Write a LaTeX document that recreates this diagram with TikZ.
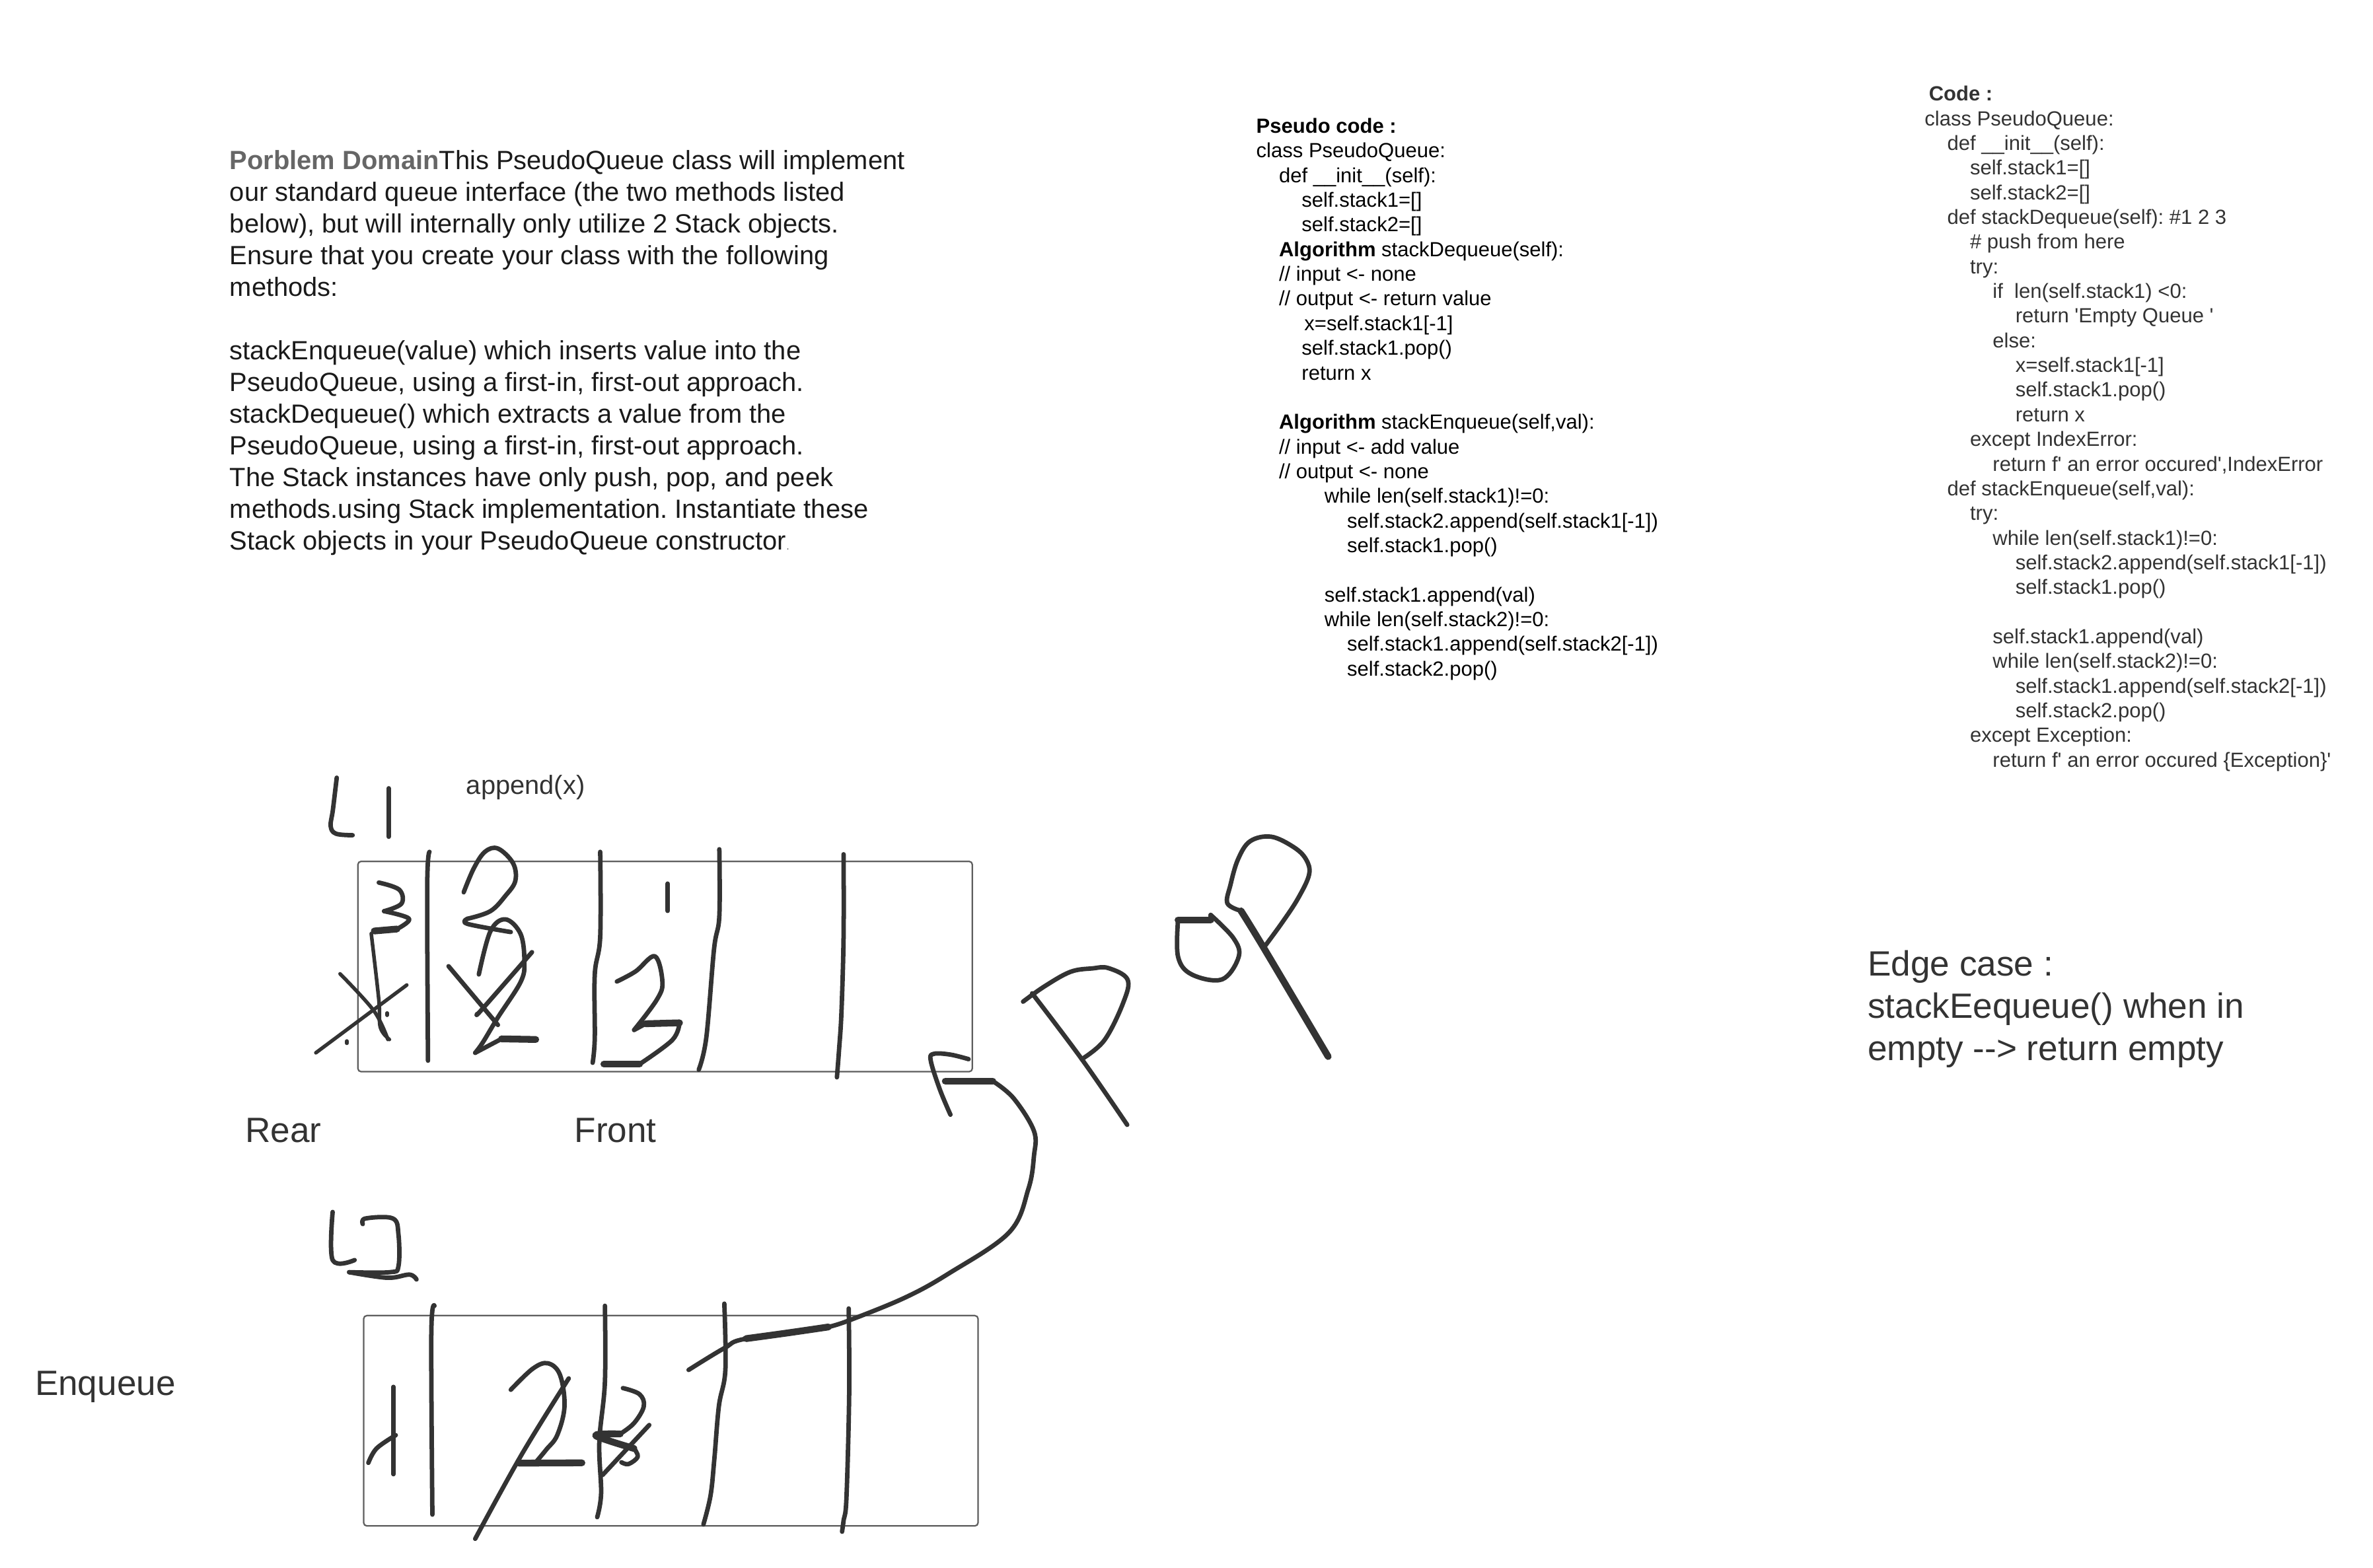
\documentclass[tikz,border=0pt]{standalone}
\usepackage{fontspec}
\usepackage{xcolor}
\usepackage{tikz}
\newfontfamily\lucid{Liberation Sans}
\definecolor{ink}{HTML}{333333}
\definecolor{boxline}{HTML}{5E5E5E}
\definecolor{headgrey}{HTML}{666666}
\definecolor{bodyink}{HTML}{1A1A1A}
\newlength{\tabw}
\setlength{\tabw}{0.75cm}
\newcommand{\ind}[1]{\hspace*{#1\tabw}}
\newcommand{\penline}[2][]{
\draw[pen,#1] plot[smooth,tension=.6] coordinates {#2};
}
\tikzset{
  pen/.style={ink,line width=4.2pt,line cap=round,line join=round},
  heavy/.style={line width=6.4pt},
  fine/.style={line width=3.4pt},
  stackbox/.style={draw=boxline,line width=1.4pt,rounded corners=3pt,anchor=north west,
    inner sep=0pt,minimum width=20.3cm,minimum height=6.95cm},
  para/.style={anchor=north west,inner sep=0pt,align=left,text=bodyink,
    font=\lucid\frenchspacing\fontsize{24.77}{29.8}\selectfont},
  codeblock/.style={anchor=north west,inner sep=0pt,align=left,
    font=\lucid\frenchspacing\fontsize{19.27}{23.2}\selectfont},
  biglabel/.style={anchor=base west,inner sep=0pt,text=ink,
    font=\lucid\fontsize{33}{39.8}\selectfont},
  smalllabel/.style={anchor=base west,inner sep=0pt,text=ink,
    font=\lucid\fontsize{24.77}{29.87}\selectfont},
}
\begin{document}
\begin{tikzpicture}[x=0.05cm,y=-0.05cm]
  \useasboundingbox (0,0) rectangle (1568,1035.9);
  \node[para] (problem) at (151.7,99.3) {{\bfseries\color{headgrey}Porblem Domain}This PseudoQueue class will implement\\
    our standard queue interface (the two methods listed\\
    below), but will internally only utilize 2 Stack objects.\\
    Ensure that you create your class with the following\\
    methods:\\
    \mbox{}\\
    stackEnqueue(value) which inserts value into the\\
    PseudoQueue, using a first-in, first-out approach.\\
    stackDequeue() which extracts a value from the\\
    PseudoQueue, using a first-in, first-out approach.\\
    The Stack instances have only push, pop, and peek\\
    methods.using Stack implementation. Instantiate these\\
    Stack objects in your PseudoQueue constructor{\color{boxline}\fontsize{10}{10}\selectfont.}};
  \node[codeblock,text=black] (pseudo) at (830,78) {\textbf{Pseudo code :}\\
    class PseudoQueue:\\
    \ind{1}def \_\_init\_\_(self):\\
    \ind{2}self.stack1=[]\\
    \ind{2}self.stack2=[]\\
    \ind{1}\textbf{Algorithm} stackDequeue(self):\\
    \ind{1}// input <- none\\
    \ind{1}// output <- return value\\
    \ind{2}\hspace*{2.5pt}x=self.stack1[-1]\\
    \ind{2}self.stack1.pop()\\
    \ind{2}return x\\
    \mbox{}\\
    \ind{1}\textbf{Algorithm} stackEnqueue(self,val):\\
    \ind{1}// input <- add value\\
    \ind{1}// output <- none\\
    \ind{3}while len(self.stack1)!=0:\\
    \ind{4}self.stack2.append(self.stack1[-1])\\
    \ind{4}self.stack1.pop()\\
    \mbox{}\\
    \ind{3}self.stack1.append(val)\\
    \ind{3}while len(self.stack2)!=0:\\
    \ind{4}self.stack1.append(self.stack2[-1])\\
    \ind{4}self.stack2.pop()};
  \node[codeblock,text=ink] (code) at (1271.6,56.7) {\hspace*{4pt}\textbf{Code :}\\
    class PseudoQueue:\\
    \ind{1}def \_\_init\_\_(self):\\
    \ind{2}self.stack1=[]\\
    \ind{2}self.stack2=[]\\
    \ind{1}def stackDequeue(self): \#1 2 3\\
    \ind{2}\# push from here\\
    \ind{2}try:\\
    \ind{3}if\ \ len(self.stack1) <0:\\
    \ind{4}return 'Empty Queue '\\
    \ind{3}else:\\
    \ind{4}x=self.stack1[-1]\\
    \ind{4}self.stack1.pop()\\
    \ind{4}return x\\
    \ind{2}except IndexError:\\
    \ind{3}return f' an error occured',IndexError\\
    \ind{1}def stackEnqueue(self,val):\\
    \ind{2}try:\\
    \ind{3}while len(self.stack1)!=0:\\
    \ind{4}self.stack2.append(self.stack1[-1])\\
    \ind{4}self.stack1.pop()\\
    \mbox{}\\
    \ind{3}self.stack1.append(val)\\
    \ind{3}while len(self.stack2)!=0:\\
    \ind{4}self.stack1.append(self.stack2[-1])\\
    \ind{4}self.stack2.pop()\\
    \ind{2}except Exception:\\
    \ind{3}return f' an error occured \{Exception\}'};
  \node[anchor=north west,inner sep=0pt,align=left,text=ink,font=\lucid\fontsize{33}{39.8}\selectfont] (edge) at (1234,628) {Edge case :\\
    stackEequeue() when in\\
    empty --> return empty};
  \node[smalllabel] (append) at (308,525) {append(x)};
  \node[biglabel] (rear) at (162,755) {Rear};
  \node[biglabel] (front) at (379.5,755) {Front};
  \node[biglabel] (enqueue) at (23,922) {Enqueue};
  \node[stackbox] (stacka) at (236,568.8) {};
  \node[stackbox] (stackb) at (239.8,869) {};
  % L1
  \penline{(222.5,514) (220,535) (218.5,546) (222,551) (233,552)}
  \penline{(256.8,521) (256.8,553)}
  \penline{(283.8,563) (282.3,585.5) (282.8,701)}
  \penline{(396.6,563) (396.6,619) (393,644) (393,686) (391.6,702.4)}
  \penline{(475.3,561.3) (475.3,605.6) (471.8,627.3) (466.7,685.7) (461.7,707)}
  \penline{(557.4,564.6) (557.4,619) (556,669) (554.4,694) (553,712)}
  \penline{(250.3,583.3) (263.8,588) (265.3,597.2) (253.8,602.2)}
  \penline{(253.8,602.2) (270.3,607.2) (262.3,614)}
  \penline[heavy]{(262.3,614) (247.3,615.3)}
  \penline[fine]{(245.3,617) (250.3,660.7) (251.3,679) (257.3,687)}
  \penline[fine]{(224.7,643.6) (247,668) (256.3,687)}
  \penline[fine]{(268.8,651) (246,668) (208.7,695.8)}
  \penline[fine]{(255.8,669.5) (255.8,671)}
  \penline[fine]{(229.2,688) (229.2,689.5)}
  \penline{(306.4,589.7) (313,574) (320.4,563) (329,560.8) (339,570.5) (340.5,582.2) (334,592) (324,602.2) (308.9,607.2)}
  \penline{(308.9,607.2) (308.9,610.6) (337.5,616)}
  \penline{(316.4,644) (324,615.6) (334,607.6) (344,617.3) (346.5,635.6) (344,649) (329,672.4) (319,689) (314,695.8)}
  \penline{(314,695.8) (331.4,686.6)}
  \penline[heavy]{(331.4,686.6) (354,687)}
  \penline{(296.4,638.6) (329,677.4)}
  \penline{(351.5,629.3) (319,666.5) (315.4,670)}
  \penline{(441.2,584) (441.2,602)}
  \penline{(407.6,648.7) (420,642) (432.7,632) (437.7,649) (434,660.7) (419,680.7)}
  \penline{(419,680.7) (426.6,676.6)}
  \penline[heavy]{(426.6,676.6) (449,676)}
  \penline{(449,676) (444.2,687.4) (422.6,703.3)}
  \penline[heavy]{(422.6,703.3) (399,703.3)}
  % pop arrow
  \penline{(640,700) (628,697) (617,696.5) (615,701) (621,720) (628,736.7)}
  \penline[heavy]{(624.6,714.5) (656,714.5)}
  \penline{(656,714.5) (669.7,725.8) (683.2,747.5) (683.2,764) (679.5,785.8) (666.8,814.5) (627,841.6) (598,857.6) (561,872.7) (547.4,877)}
  \penline{(547.4,877) (493,884.7) (478.6,891) (455,905.4)}
  \penline[heavy]{(547.4,877) (520,881) (493,884.7)}
  % P
  \penline{(676,662) (690,652) (707.3,642.3) (722,640) (732.3,639.8) (745,647.3) (742.3,662.4) (729.8,687.4) (714.8,700)}
  \penline{(682,656.5) (714.8,700) (744.8,743.4)}
  % o
  \penline{(778.4,608) (778.4,632.3) (787.4,644) (807.5,647.3) (818.5,632.3) (815,620) (800,604.7)}
  \penline[heavy]{(778.4,608) (800,608)}
  \penline{(800,608) (800,604.7)}
  \penline{(835,626.4) (847,610) (857.6,593.9) (865,578) (863,568) (855,560) (840,553) (826,556) (818,568) (813,585) (811,597) (820,602)}
  \penline[heavy]{(820,602) (835,626.4) (877.6,698.3)}
  % L2
  \penline{(219.8,801) (219.8,832.8) (234.3,832.8)}
  \penline{(239.7,809) (241.5,805.3) (259.6,805.3) (263.3,816) (263.3,836.8) (257.8,840.8) (230.7,840.8)}
  \penline{(230.7,840.8) (256,844.5) (270.5,842.4) (275.2,845.6)}
  \penline{(287.1,863) (285,881.5) (285.7,1001)}
  \penline{(399.7,863) (399.7,913.4) (396,953) (397.2,986.8) (394.6,1002.7)}
  \penline{(478.6,861.6) (479.3,905.4) (475,929.4) (472,964.4) (469.5,988.4) (464.8,1007.5)}
  \penline{(560.8,864.8) (561.1,921.4) (559.3,990) (557.5,1004.3) (556.4,1012.3)}
  \penline{(260,916.6) (260,974.3)}
  \penline{(243.4,966.8) (248.8,957.3) (261.5,948.5)}
  \penline{(337.5,918.5) (352,904.6) (362,901) (370,908.6) (373,929.4) (368.2,948.5) (361,958) (353.7,966.8)}
  \penline[heavy]{(342.9,967) (384.5,966.8)}
  \penline{(375.8,911) (344.7,961.3) (314,1017)}
  \penline{(411.6,917.4) (422.5,921.4) (425.4,929.4) (419,940.5) (409.8,947.7)}
  \penline[heavy]{(409.8,947.7) (393.6,948.8) (418.9,957.3)}
  \penline{(418.9,957.3) (421.4,962.8) (415.3,967.6) (410.6,966.4)}
  \penline{(429,941.8) (398.2,974.8)}
\end{tikzpicture}
\end{document}
